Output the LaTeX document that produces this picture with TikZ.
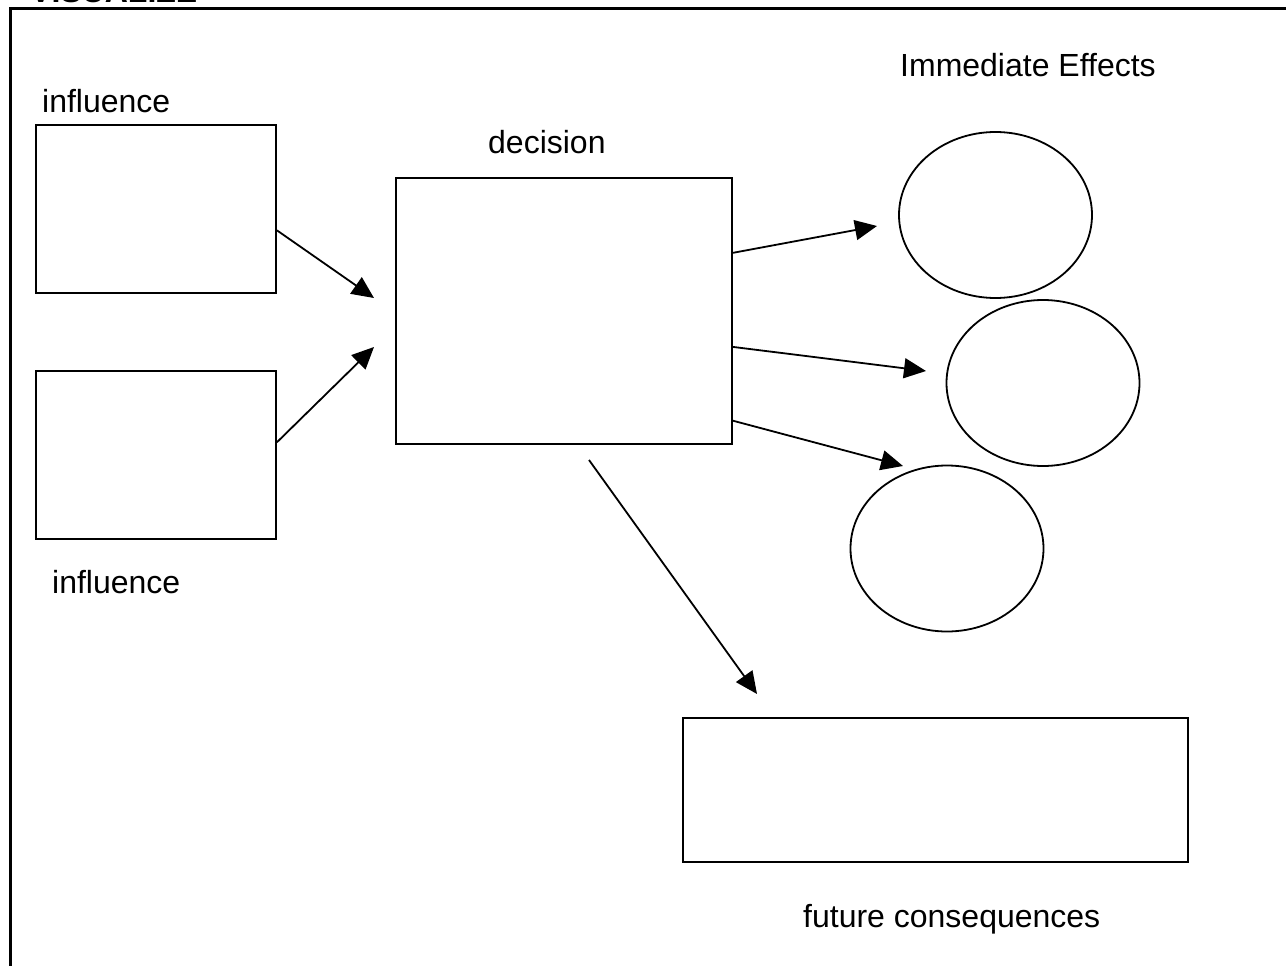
\documentclass[tikz,border=0pt]{standalone}
\usepackage{fontspec}
\setmainfont{Liberation Sans}
\usetikzlibrary{arrows.meta,shapes.geometric}
\begin{document}
\begin{tikzpicture}[x=1pt,y=-1pt,
  boxshape/.style={draw, line width=1.8pt, inner sep=0pt, rectangle},
  effect/.style={draw, line width=1.8pt, inner sep=0pt, ellipse, minimum width=193pt, minimum height=166pt},
  lbl/.style={anchor=base west, inner sep=0pt, font=\fontsize{32}{38}\selectfont},
  title/.style={anchor=base west, inner sep=0pt, font=\fontsize{32}{38}\selectfont\bfseries},
  conn/.style={line width=1.8pt, -{Triangle[length=22pt,width=20pt]}},
  frame/.style={line width=3pt}]
\useasboundingbox (0,0) rectangle (1286,966);
% frame and clipped heading
\node[title] (head) at (30,3) {VISUALIZE};
\coordinate (fbl) at (10.5,990);
\coordinate (ftl) at (10.5,8.5);
\coordinate (ftr) at (1310,8.5);
\draw[frame] (fbl) -- (ftl) -- (ftr);
% boxes
\node[boxshape, minimum width=240pt, minimum height=168pt] (inf1) at (156,209) {};
\node[boxshape, minimum width=240pt, minimum height=168pt] (inf2) at (156,455) {};
\node[boxshape, minimum width=336pt, minimum height=266pt] (dec) at (564,311) {};
\node[boxshape, minimum width=505pt, minimum height=144pt] (fut) at (935.5,790) {};
% ellipses
\node[effect] (e1) at (995.5,215) {};
\node[effect] (e2) at (1043,383) {};
\node[effect] (e3) at (947,548.5) {};
% labels
\node[lbl] (linf1) at (42,113) {influence};
\node[lbl] (linf2) at (52,593) {influence};
\node[lbl] (ldec) at (488,153) {decision};
\node[lbl] (leff) at (900,77) {Immediate Effects};
\node[lbl] (lfut) at (803,927) {future consequences};
% free arrow ends
\coordinate (d1) at (374,298);
\coordinate (d2) at (374,347);
\coordinate (t1) at (877,226);
\coordinate (t2) at (926,371);
\coordinate (t3) at (903,466);
\coordinate (s4) at (589,460);
\coordinate (t4) at (757,694);
% connectors
\draw[conn] (inf1.-10) -- (d1);
\draw[conn] (inf2.6.7) -- (d2);
\draw[conn] (dec.19.65) -- (t1);
\draw[conn] (dec.-12.4) -- (t2);
\draw[conn] (dec.-33) -- (t3);
\draw[conn] (s4) -- (t4);
\end{tikzpicture}
\end{document}
